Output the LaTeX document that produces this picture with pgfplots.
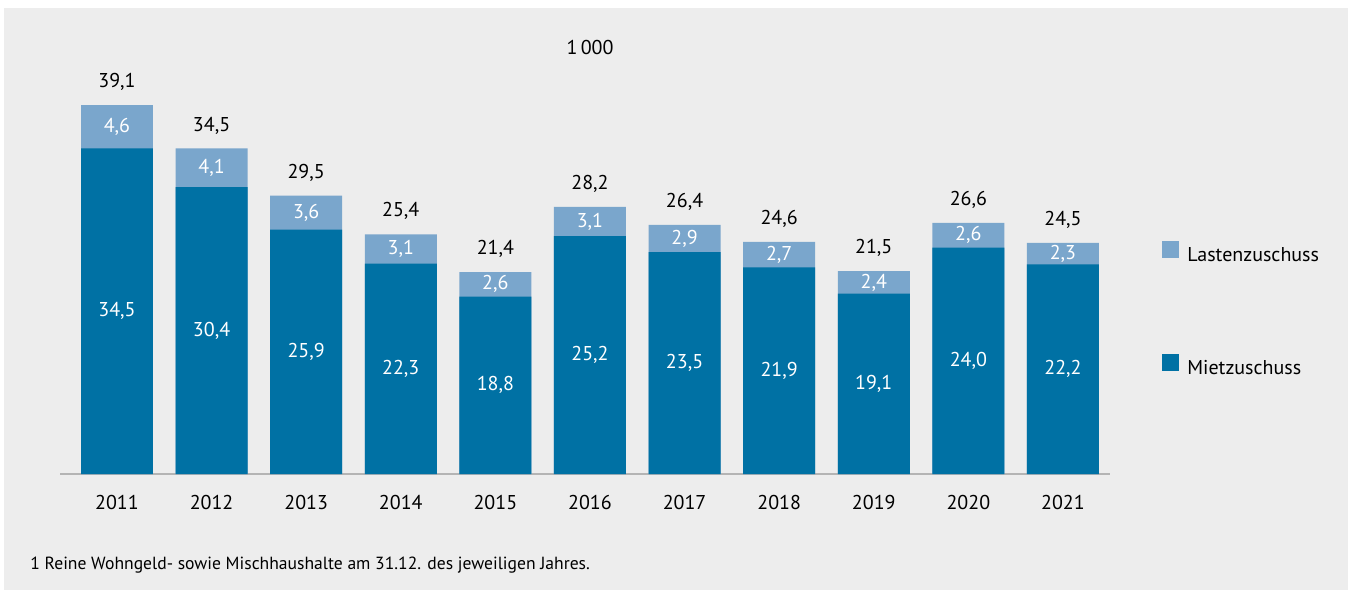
\documentclass[border=0pt]{standalone}
\usepackage{pgfplots}
\pgfplotsset{compat=1.18}
\usepackage{pgfplotstable}
\usepackage{fontspec}
\setmainfont{PT Sans}
\definecolor{miet}{HTML}{0071A4}
\definecolor{last}{HTML}{7AA6CC}
\definecolor{bg}{HTML}{EDEDED}
\definecolor{axl}{HTML}{B4B4B4}

\pgfplotstableread{
x total miet
0 39.1 34.5
1 34.5 30.4
2 29.5 25.9
3 25.4 22.3
4 21.4 18.8
5 28.3 25.2
6 26.4 23.5
7 24.6 21.9
8 21.5 19.1
9 26.6 24.0
10 24.5 22.2
}\bars

\pgfplotstableread{
x y lab
0 17.25 34,5
1 15.2 30,4
2 12.95 25,9
3 11.15 22,3
4 9.4 18,8
5 12.6 25,2
6 11.75 23,5
7 10.95 21,9
8 9.55 19,1
9 12.0 24,0
10 11.1 22,2
}\mietlab

\pgfplotstableread{
x y lab
0 36.8 4,6
1 32.45 4,1
2 27.7 3,6
3 23.85 3,1
4 20.1 2,6
5 26.75 3,1
6 24.95 2,9
7 23.25 2,7
8 20.3 2,4
9 25.3 2,6
10 23.35 2,3
}\lastlab

\pgfplotstableread{
x y lab
0 39.1 39,1
1 34.5 34,5
2 29.5 29,5
3 25.4 25,4
4 21.4 21,4
5 28.3 28,2
6 26.4 26,4
7 24.6 24,6
8 21.5 21,5
9 26.6 26,6
10 24.5 24,5
}\totlab

\begin{document}
\fontsize{10pt}{12pt}\selectfont
\begin{tikzpicture}[font=\fontsize{10pt}{12pt}\selectfont]
\useasboundingbox (0,0) rectangle (675pt,295pt);
\fill[white] (0,0) rectangle (675pt,295pt);
\fill[bg] (2pt,0) rectangle (674pt,291pt);
\begin{axis}[
  at={(30pt,58pt)}, anchor=south west, scale only axis,
  width=525pt, height=188.75pt,
  xmin=-0.6025, xmax=10.497, ymin=0, ymax=40,
  clip=false,
  axis x line=bottom, axis y line=none,
  x axis line style={-, draw=axl, line width=1pt},
  xtick={0,1,2,3,4,5,6,7,8,9,10},
  xticklabels={2011,2012,2013,2014,2015,2016,2017,2018,2019,2020,2021},
  major tick length=0pt,
  xticklabel style={anchor=center, yshift=-14pt, text=black},
  legend style={draw=none, fill=none, at={(1.0438,0.628)}, anchor=north west,
    row sep=42.5pt, legend cell align=left,
    nodes={inner xsep=4pt},
    /tikz/every even column/.append style={column sep=0pt}},
]
\addplot[ybar, bar width=0.761, bar shift=0pt, fill=last, draw=none,
  legend image code/.code={\fill[last] (0pt,-1pt) rectangle (8.5pt,7.5pt);}]
  table[x=x,y=total]{\bars};
\addlegendentry{Lastenzuschuss}
\addplot[ybar, bar width=0.761, bar shift=0pt, fill=miet, draw=none,
  legend image code/.code={\fill[miet] (0pt,-1pt) rectangle (8.5pt,7.5pt);}]
  table[x=x,y=miet]{\bars};
\addlegendentry{Mietzuschuss}
\addplot[draw=none, mark=none, forget plot, nodes near coords, point meta=explicit symbolic,
  every node near coord/.style={anchor=center, text=white}]
  table[x=x,y=y,meta=lab]{\mietlab};
\addplot[draw=none, mark=none, forget plot, nodes near coords, point meta=explicit symbolic,
  every node near coord/.style={anchor=center, text=white}]
  table[x=x,y=y,meta=lab]{\lastlab};
\addplot[draw=none, mark=none, forget plot, nodes near coords, point meta=explicit symbolic,
  every node near coord/.style={anchor=center, text=black, yshift=11.5pt}]
  table[x=x,y=y,meta=lab]{\totlab};
\end{axis}
\node at (295pt,271pt) {1\,000};
\node[anchor=west, inner sep=0pt, font=\fontsize{8.8pt}{10pt}\selectfont] at (15pt,12.5pt) {1 Reine Wohngeld- sowie Mischhaushalte am 31.12. des jeweiligen Jahres.};
\end{tikzpicture}
\end{document}
